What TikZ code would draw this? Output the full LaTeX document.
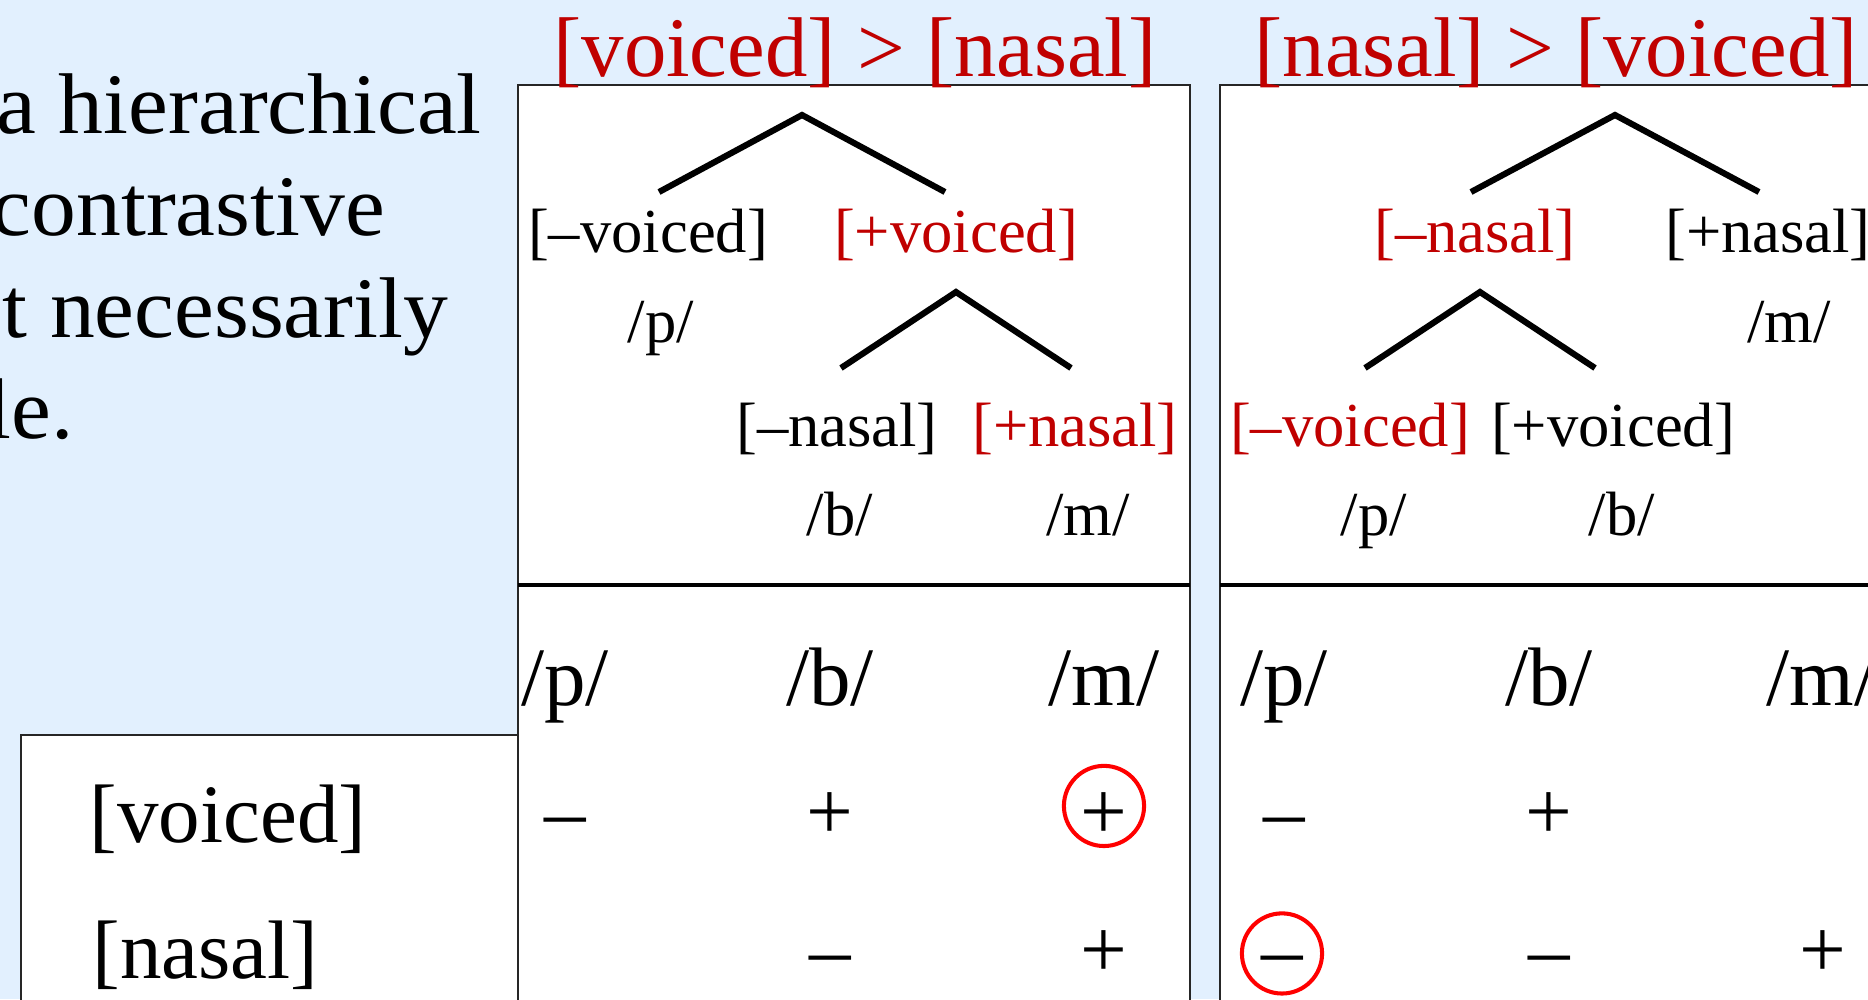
\documentclass[tikz,border=0pt]{standalone}
\usepackage{fontspec}
\setmainfont{Liberation Serif}
\newfontfamily\prosefont{Liberation Serif}[FakeStretch=1.04]
\usetikzlibrary{positioning}
\definecolor{slide}{RGB}{226,240,254}
\definecolor{crimson}{RGB}{192,0,0}
\definecolor{ink}{RGB}{0,0,0}
\definecolor{ringred}{RGB}{255,0,0}
\tikzset{
  panel/.style={draw=ink!85,fill=white,line width=0.45pt},
  rule/.style={draw=ink,line width=0.9pt},
  branch/.style={draw=ink,line width=1.75pt},
  head/.style={anchor=base,inner sep=0pt,text=crimson,font=\fontsize{24.1pt}{28pt}\selectfont},
  feat/.style={anchor=base,inner sep=0pt,text=#1,font=\fontsize{17.8pt}{20pt}\selectfont},
  feat/.default=ink,
  cell/.style={anchor=base,inner sep=0pt,font=\fontsize{23.6pt}{26pt}\selectfont},
  ring/.style={draw=ringred,line width=1.15pt,circle,minimum size=22.8pt,inner sep=0pt},
  prose/.style={anchor=base west,inner sep=0pt,font=\prosefont\fontsize{24.5pt}{29pt}\selectfont},
}

\begin{document}
\begin{tikzpicture}[x=0.01cm,y=-0.01cm]
  \useasboundingbox (0,0) rectangle (1868,999);
  \clip (0,0) rectangle (1868,999);
  \fill[slide] (0,0) rectangle (1868,999);

  % slide text, cut at the left edge
  \foreach \x/\y/\t [count=\i] in {-4/133/a hierarchical,-9/235/contrastive,2/337/t necessarily,-14/438/le.}
    \node[prose] (line\i) at (\x,\y) {\t};

  % boxes
  \draw[panel] (21,735) rectangle (518,1010);
  \draw[panel] (518,85) rectangle (1190,1010);
  \draw[panel] (1220,85) rectangle (1880,1010);
  \draw[rule] (518,585) -- (1190,585);
  \draw[rule] (1220,585) -- (1880,585);

  % titles
  \node[head] (t1) at (855,76) {[voiced] > [nasal]};
  \node[head] (t2) at (1556,76) {[nasal] > [voiced]};

  % tree: voiced first
  \coordinate (a1) at (802,115);  \coordinate (l1) at (659,192); \coordinate (r1) at (945,192);
  \coordinate (a2) at (956,292);  \coordinate (l2) at (841,368); \coordinate (r2) at (1071,368);
  \draw[branch] (l1) -- (a1) -- (r1);
  \draw[branch] (l2) -- (a2) -- (r2);
  \node[feat] (vm1) at (648,252) {[–voiced]};
  \node[feat=crimson] (vp1) at (956,252) {[+voiced]};
  \node[feat] (p1) at (661,342) {/p/};
  \node[feat] (nm1) at (837,446) {[–nasal]};
  \node[feat=crimson] (np1) at (1075,446) {[+nasal]};
  \node[feat] (b1) at (840,535) {/b/};
  \node[feat] (m1) at (1088,535) {/m/};

  % tree: nasal first
  \coordinate (a3) at (1615,115); \coordinate (l3) at (1471,192); \coordinate (r3) at (1759,192);
  \coordinate (a4) at (1480,292); \coordinate (l4) at (1365,368); \coordinate (r4) at (1595,368);
  \draw[branch] (l3) -- (a3) -- (r3);
  \draw[branch] (l4) -- (a4) -- (r4);
  \node[feat=crimson] (nm2) at (1475,252) {[–nasal]};
  \node[feat] (np2) at (1768,252) {[+nasal]};
  \node[feat] (m2) at (1789,342) {/m/};
  \node[feat=crimson] (vm2) at (1350,446) {[–voiced]};
  \node[feat] (vp2) at (1613,446) {[+voiced]};
  \node[feat] (p2) at (1374,535) {/p/};
  \node[feat] (b2) at (1622,535) {/b/};

  % feature tables
  \node[cell,anchor=base west] (fv) at (89,842) {[voiced]};
  \node[cell,anchor=base west] (fn) at (92,978) {[nasal]};
  \foreach \x/\s in {565/p,830/b,1104/m} \node[cell] (h1\s) at (\x,705) {/\s/};
  \foreach \x/\s in {1284/p,1549/b,1822/m} \node[cell] (h2\s) at (\x,705) {/\s/};
  \node[cell] (v1p) at (565,839) {–};
  \node[cell] (v1b) at (830,839) {+};
  \node[cell] (v1m) at (1104,839) {+};
  \node[cell] (n1b) at (830,977) {–};
  \node[cell] (n1m) at (1104,977) {+};
  \node[cell] (v2p) at (1284,839) {–};
  \node[cell] (v2b) at (1549,839) {+};
  \node[cell] (n2p) at (1282,977) {–};
  \node[cell] (n2b) at (1549,977) {–};
  \node[cell] (n2m) at (1823,977) {+};
  \node[ring] (o1) at ([yshift=9.4pt]v1m.base) {};
  \node[ring] (o2) at ([yshift=6.7pt]n2p.base) {};
\end{tikzpicture}
\end{document}
